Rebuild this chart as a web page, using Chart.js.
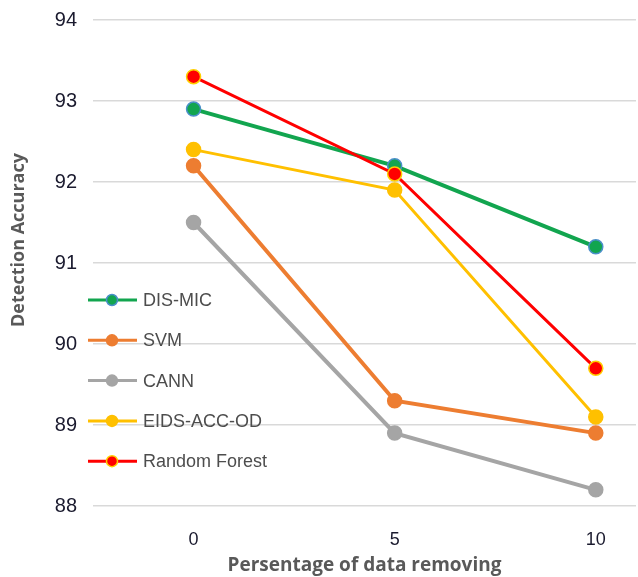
<!DOCTYPE html>
<html>
<head>
<meta charset="utf-8">
<script src="https://cdn.jsdelivr.net/npm/chart.js@4/dist/chart.umd.min.js"></script>
<style>
  html, body { margin: 0; padding: 0; background: #fff; }
  #wrap { width: 638px; height: 577px; }
</style>
</head>
<body>
<div id="wrap"><canvas id="c" width="638" height="577"></canvas></div>
<script>
// Percentage of data removed
const removedPct = [0, 5, 10];
const xTicks = [0, 5, 10];
const yTicks = [88, 89, 90, 91, 92, 93, 94];

// Detection accuracy per method
const disMic = [92.9, 92.2, 91.2];
const svm = [92.2, 89.3, 88.9];
const cann = [91.5, 88.9, 88.2];
const eidsAccOd = [92.4, 91.9, 89.1];
const randomForest = [93.3, 92.1, 89.7];

const seriesNames = ['DIS-MIC', 'SVM', 'CANN', 'EIDS-ACC-OD', 'Random Forest'];
const yTitle = 'Detection Accuracy';
const xTitle = 'Persentage of data removing';

function pts(vals) { return vals.map((v, i) => ({ x: removedPct[i], y: v })); }

const styles = [
  { line: '#12a54f', fill: '#12a54f', border: '#4a8fc9', width: 4, order: 3 },
  { line: '#ed7d31', fill: '#ed7d31', border: '#ed7d31', width: 4, order: 1 },
  { line: '#a5a5a5', fill: '#a5a5a5', border: '#a5a5a5', width: 4, order: 4 },
  { line: '#ffc000', fill: '#ffc000', border: '#ffc000', width: 3, order: 2 },
  { line: '#ff0000', fill: '#ff0000', border: '#ffd000', width: 3, order: 0 }
];
const values = [disMic, svm, cann, eidsAccOd, randomForest];

const datasets = values.map((vals, i) => ({
  label: seriesNames[i],
  data: pts(vals),
  borderColor: styles[i].line,
  borderWidth: styles[i].width,
  pointBackgroundColor: styles[i].fill,
  pointBorderColor: styles[i].border,
  pointBorderWidth: 1.5,
  pointRadius: 7,
  order: styles[i].order,
  tension: 0
}));

// Legend drawn inside the plot area on the left, plus the vertical axis title
const insideLegend = {
  id: 'insideLegend',
  afterDraw(chart) {
    const ctx = chart.ctx;
    ctx.save();
    ctx.font = '18px "Liberation Sans", Arial, sans-serif';
    ctx.textBaseline = 'middle';
    ctx.textAlign = 'left';
    seriesNames.forEach((name, i) => {
      const y = 300 + i * 40.3;
      const s = styles[i];
      ctx.strokeStyle = s.line;
      ctx.lineWidth = 3;
      ctx.beginPath();
      ctx.moveTo(88, y);
      ctx.lineTo(137, y);
      ctx.stroke();
      ctx.beginPath();
      ctx.arc(112, y, 5.5, 0, Math.PI * 2);
      ctx.fillStyle = s.fill;
      ctx.fill();
      ctx.lineWidth = 1.5;
      ctx.strokeStyle = s.border;
      ctx.stroke();
      ctx.fillStyle = '#4d4d4d';
      ctx.fillText(name, 143, y + 1);
    });

    ctx.translate(19, 240);
    ctx.rotate(-Math.PI / 2);
    ctx.textAlign = 'center';
    ctx.font = 'bold 18px "Open Sans", "Liberation Sans", sans-serif';
    ctx.fillStyle = '#595959';
    ctx.fillText(yTitle, 0, 0);
    ctx.restore();
  }
};

new Chart(document.getElementById('c'), {
  type: 'line',
  data: { datasets },
  plugins: [insideLegend],
  options: {
    responsive: false,
    animation: false,
    devicePixelRatio: 1,
    layout: { autoPadding: false, padding: { left: 10, right: 2, top: 20, bottom: 0 } },
    plugins: {
      legend: { display: false },
      tooltip: { enabled: false }
    },
    scales: {
      x: {
        type: 'linear',
        min: -2.5,
        max: 11,
        afterBuildTicks(scale) { scale.ticks = xTicks.map(v => ({ value: v })); },
        afterFit(scale) {
          scale.height = 71;
          scale.paddingLeft = 0;
          scale.paddingRight = 0;
        },
        grid: { display: false, drawTicks: false },
        border: { display: false },
        ticks: {
          color: '#1a1a2e',
          font: { size: 18, family: '"Liberation Sans", Arial, sans-serif' },
          padding: 23,
          maxRotation: 0
        },
        title: {
          display: true,
          text: xTitle,
          color: '#595959',
          font: { size: 19, weight: 'bold', family: '"Open Sans", "Liberation Sans", sans-serif' },
          padding: { top: 0, bottom: 0 }
        }
      },
      y: {
        min: 88,
        max: 94,
        afterBuildTicks(scale) { scale.ticks = yTicks.map(v => ({ value: v })); },
        afterFit(scale) {
          scale.width = 83;
          scale.paddingTop = 0;
          scale.paddingBottom = 0;
        },
        grid: { color: '#d9d9d9', lineWidth: 1.5, drawTicks: false },
        border: { display: false },
        ticks: {
          color: '#1a1a2e',
          font: { size: 20, family: '"Liberation Sans", Arial, sans-serif' },
          padding: 16
        },
        title: { display: false }
      }
    }
  }
});
</script>
</body>
</html>
